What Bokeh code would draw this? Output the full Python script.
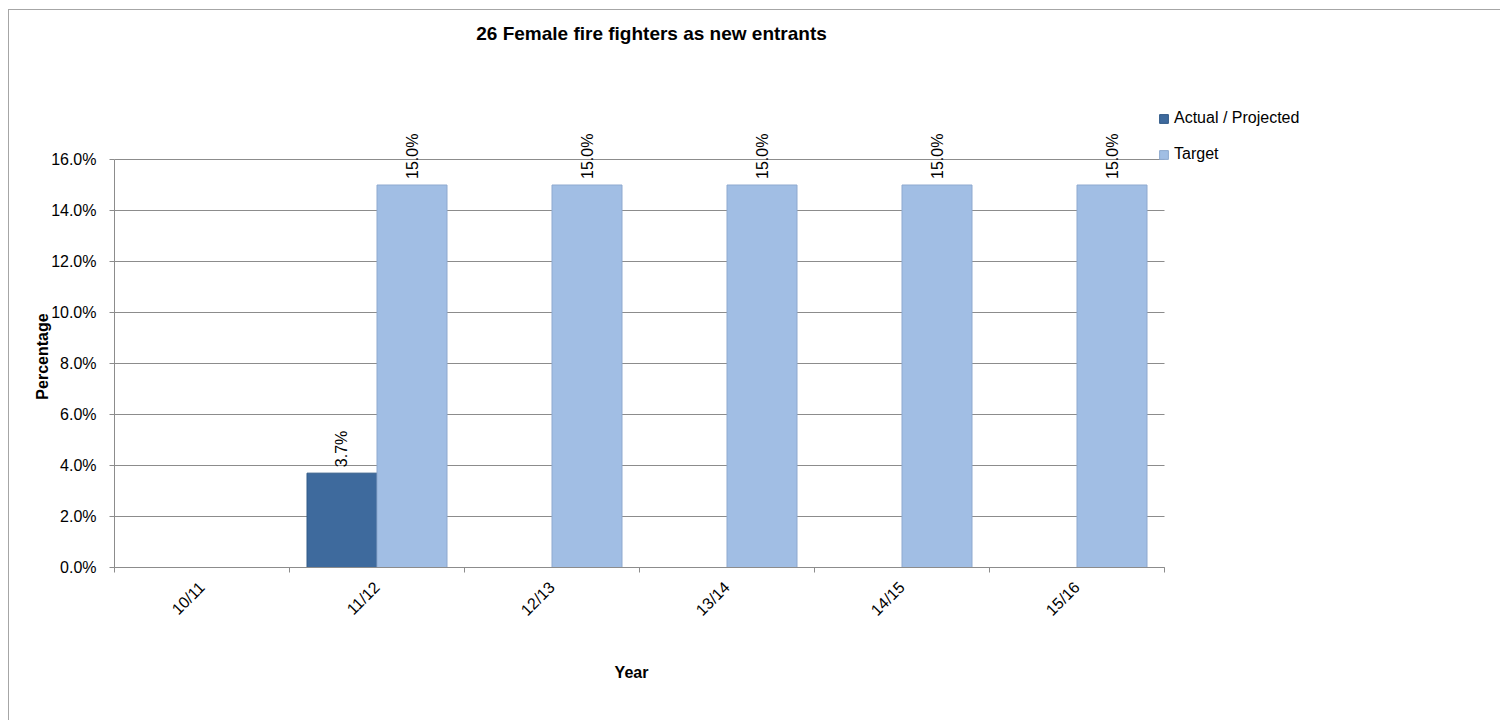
import math
from bokeh.plotting import figure
from bokeh.models import (ColumnDataSource, Range1d, FixedTicker, NumeralTickFormatter,
                          LabelSet, Label, Legend, LegendItem)
from bokeh.core.properties import value
from bokeh.embed import file_html
from bokeh.resources import INLINE

# ---- data ----
categories = ["10/11", "11/12", "12/13", "13/14", "14/15", "15/16"]
actual = [None, 0.037, None, None, None, None]
target = [None, 0.15, 0.15, 0.15, 0.15, 0.15]
y_ticks = [0.0, 0.02, 0.04, 0.06, 0.08, 0.10, 0.12, 0.14, 0.16]

title_text = "26 Female fire fighters as new entrants"
x_title = "Year"
y_title = "Percentage"
series_names = ["Actual / Projected", "Target"]

FONT = "Liberation Sans"
ACTUAL_COLOR = "#3e6a9d"
TARGET_COLOR = "#a1bee4"
GRID = "#8c8c8c"

# ---- layout (pixels, relative to the figure's top-left) ----
W, H = 1492, 711
AREA_LEFT, AREA_TOP = 105, 149       # top-left of the 6-category x 0..16% area
AREA_W, AREA_H = 1050, 408
n = len(categories)
y_top = y_ticks[-1]
ux = n / AREA_W                      # data units per pixel
uy = y_top / AREA_H

centers = [i + 0.5 for i in range(n)]
bounds = [float(i) for i in range(n + 1)]


def src(vals, offset):
    xs, tops, labels = [], [], []
    for c, v in zip(centers, vals):
        if v is None:
            continue
        xs.append(c + offset)
        tops.append(v)
        labels.append(f"{v * 100:.1f}%")
    return ColumnDataSource(dict(x=xs, top=tops, label=labels))


s_act = src(actual, -0.2)
s_tgt = src(target, 0.2)

p = figure(width=W, height=H, output_backend="svg", toolbar_location=None,
           x_range=Range1d(-AREA_LEFT * ux, (W - AREA_LEFT) * ux),
           y_range=Range1d(-(H - AREA_TOP - AREA_H) * uy, (AREA_H + AREA_TOP) * uy),
           min_border_left=0, min_border_right=0, min_border_top=0, min_border_bottom=0)
p.styles = {"margin-left": "8px", "margin-top": "9px",
            "border-left": "1px solid #a6a6a6", "border-top": "1px solid #a6a6a6"}
p.outline_line_color = None
p.background_fill_color = "white"
p.border_fill_color = "white"
p.xgrid.visible = False
p.ygrid.visible = False

# gridlines limited to the category area
p.segment(x0=[0] * len(y_ticks), x1=[n] * len(y_ticks), y0=y_ticks, y1=y_ticks,
          line_color=GRID, line_width=1)

r_act = p.vbar(x="x", top="top", width=0.4, source=s_act, fill_color=ACTUAL_COLOR,
               line_color="#315a88", line_width=1)
r_tgt = p.vbar(x="x", top="top", width=0.4, source=s_tgt, fill_color=TARGET_COLOR,
               line_color="#8ea9cf", line_width=1)

for s in (s_act, s_tgt):
    p.add_layout(LabelSet(x="x", y="top", text="label", source=s, angle=math.pi / 2,
                          text_align="left", text_baseline="middle", y_offset=6,
                          text_font=value(FONT), text_font_size="16px", text_color="black"))

# axes drawn at fixed data locations
xa = p.xaxis[0]
xa.fixed_location = 0
xa.bounds = (0, n)
xa.ticker = FixedTicker(ticks=centers, minor_ticks=bounds)
xa.major_label_overrides = {c: lab for c, lab in zip(centers, categories)}
xa.major_label_orientation = math.pi / 4
xa.major_tick_out = 0
xa.major_tick_in = 0
xa.minor_tick_out = 5
xa.minor_tick_in = 0
xa.minor_tick_line_color = GRID
xa.axis_line_color = GRID
xa.major_label_standoff = 12
xa.major_label_text_font = FONT
xa.major_label_text_font_size = "16px"
xa.major_label_text_color = "black"

ya = p.yaxis[0]
ya.fixed_location = 0
ya.bounds = (0, y_top)
ya.ticker = FixedTicker(ticks=y_ticks, minor_ticks=[])
ya.formatter = NumeralTickFormatter(format="0.0%")
ya.major_tick_out = 5
ya.major_tick_in = 0
ya.major_tick_line_color = GRID
ya.axis_line_color = GRID
ya.major_label_standoff = 13
ya.major_label_text_font = FONT
ya.major_label_text_font_size = "16px"
ya.major_label_text_color = "black"

# texts (screen units relative to the frame's bottom-left)
common = dict(x_units="screen", y_units="screen", text_align="center",
              text_baseline="middle", text_font=FONT, text_color="black",
              text_font_style="bold")
p.add_layout(Label(x=642, y=H - 23, text=title_text, text_font_size="19px", **common))
p.add_layout(Label(x=622, y=H - 662, text=x_title, text_font_size="16px", **common))
p.add_layout(Label(x=33, y=H - 346, text=y_title, angle=math.pi / 2,
                   text_font_size="16px", **common))

legend = Legend(items=[LegendItem(label=series_names[0], renderers=[r_act]),
                       LegendItem(label=series_names[1], renderers=[r_tgt])],
                location=(1149, H - 153), orientation="vertical",
                glyph_width=11, glyph_height=11, label_height=18, spacing=18,
                label_standoff=5, padding=0, margin=0,
                border_line_color=None, background_fill_alpha=0,
                label_text_font=FONT, label_text_font_size="16px", label_text_color="black")
p.add_layout(legend)

open("out.html", "w").write(file_html(p, INLINE))
